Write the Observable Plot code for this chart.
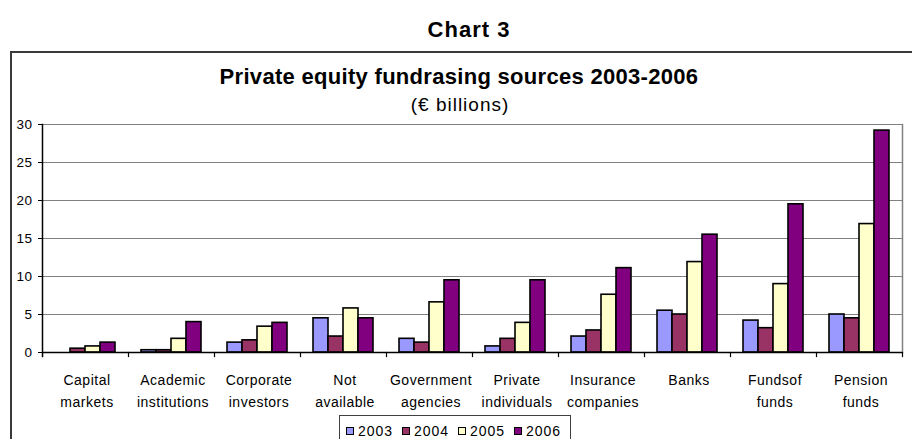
<!DOCTYPE html>
<html><head><meta charset="utf-8">
<script src="https://cdn.jsdelivr.net/npm/d3@7"></script>
<script src="https://cdn.jsdelivr.net/npm/@observablehq/plot@0.6"></script>
<style>
html,body{margin:0;padding:0;background:#fff;}
#wrap{position:relative;width:912px;height:439px;overflow:hidden;font-family:"Liberation Sans",Arial,sans-serif;color:#000;background:#fff;}
.t{position:absolute;white-space:nowrap;text-align:center;line-height:1;width:600px;}
#frame{position:absolute;left:10px;top:51px;width:960px;height:500px;border:2px solid #3a3a3a;box-sizing:border-box;}
#chart{position:absolute;left:0;top:112px;}
.chart text{letter-spacing:0.5px;}
#legend{position:absolute;left:339px;top:415px;width:232px;height:40px;border:1px solid #404040;box-sizing:border-box;background:#fff;}
.li{position:absolute;top:8px;font-size:14px;line-height:14px;letter-spacing:1px;white-space:nowrap;}
.sw{display:inline-block;width:8px;height:8px;border:1px solid #000;box-sizing:border-box;margin-right:4px;vertical-align:1px;}
</style>
</head><body>
<div id="wrap">
  <div class="t" id="h0" style="left:169px;top:19px;font-size:22px;font-weight:bold;letter-spacing:1px;">Chart 3</div>
  <div id="frame"></div>
  <div class="t" id="h1" style="left:159px;top:66px;font-size:22px;font-weight:bold;letter-spacing:0.3px;">Private equity fundrasing sources 2003-2006</div>
  <div class="t" id="h2" style="left:160px;top:95px;font-size:19px;letter-spacing:1px;">(€ billions)</div>
  <div id="chart"></div>
  <div id="legend"></div>
</div>
<script>
const categories = ["Capital markets", "Academic institutions", "Corporate investors", "Not available", "Government agencies", "Private individuals", "Insurance companies", "Banks", "Funds of funds", "Pension funds"];
const categoryLabels = ["Capital\nmarkets", "Academic\ninstitutions", "Corporate\ninvestors", "Not\navailable", "Government\nagencies", "Private\nindividuals", "Insurance\ncompanies", "Banks", "Fundsof\nfunds", "Pension\nfunds"];
const years = ["2003", "2004", "2005", "2006"];
const values2003 = [0, 0.3, 1.3, 4.5, 1.8, 0.8, 2.1, 5.5, 4.2, 5.0];
const values2004 = [0.5, 0.3, 1.6, 2.1, 1.3, 1.8, 2.9, 5.0, 3.2, 4.5];
const values2005 = [0.8, 1.8, 3.4, 5.8, 6.6, 3.9, 7.6, 11.9, 9.0, 16.9];
const values2006 = [1.3, 4.0, 3.9, 4.5, 9.5, 9.5, 11.1, 15.5, 19.5, 29.2];
const yearColors = ["#9999FF", "#993366", "#FFFFCC", "#800080"];
const yTicks = [0, 5, 10, 15, 20, 25, 30];

const seriesValues = [values2003, values2004, values2005, values2006];
const rows = years.flatMap((yr, i) => categories.map((c, j) => ({category: c, year: yr, value: seriesValues[i][j]})));

const W = 912, H = 327, mT = 12, mB = 87, mL = 41, mR = 9;
const plotH = H - mT - mB;

const chart = Plot.plot({
  width: W, height: H,
  marginTop: mT, marginBottom: mB, marginLeft: mL, marginRight: mR,
  className: "chart",
  style: {background: "transparent", overflow: "visible", fontFamily: "'Liberation Sans', Arial, sans-serif", color: "#000"},
  facet: {marginTop: 0, marginRight: 0, marginBottom: 0, marginLeft: 0},
  fx: {domain: categories, padding: 0, label: null},
  x: {domain: years, paddingInner: 0, paddingOuter: 0.784, axis: null},
  y: {domain: [0, 30], label: null},
  color: {domain: years, range: yearColors},
  marks: [
    Plot.gridY(yTicks, {stroke: "#808080", strokeOpacity: 1, strokeWidth: 1.2}),
    Plot.frame({anchor: "right", fx: categories[categories.length - 1], stroke: "#808080", strokeWidth: 1.5}),
    Plot.barY(rows, {fx: "category", x: "year", y: "value", fill: "year", stroke: "#000", strokeWidth: 1.6}),
    Plot.ruleY([0], {stroke: "#000", strokeWidth: 1.5}),
    Plot.frame({anchor: "right", insetTop: plotH, insetBottom: -4, stroke: "#000", strokeWidth: 1.2}),
    Plot.frame({anchor: "left", fx: categories[0], insetBottom: -4, stroke: "#000", strokeWidth: 1.5}),
    Plot.axisY(yTicks, {tickSize: 4, tickPadding: 6, fontSize: 13.5, label: null, stroke: "#000"}),
    Plot.axisFx({anchor: "bottom", tickSize: 0, tickPadding: 17.5, fontSize: 14, lineHeight: 1.55, label: null, dx: 1.5,
      tickFormat: c => categoryLabels[categories.indexOf(c)]})
  ]
});
document.getElementById("chart").appendChild(chart);

const legend = document.getElementById("legend");
years.forEach((yr, i) => {
  const item = document.createElement("div");
  item.className = "li";
  item.style.left = (6 + i * 56) + "px";
  const sw = document.createElement("span");
  sw.className = "sw";
  sw.style.background = yearColors[i];
  item.appendChild(sw);
  item.appendChild(document.createTextNode(yr));
  legend.appendChild(item);
});
</script>
</body></html>
